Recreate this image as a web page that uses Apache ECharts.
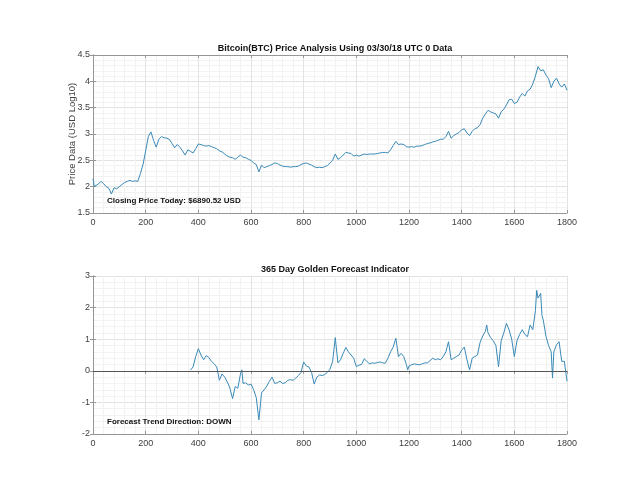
<!DOCTYPE html>
<html>
<head>
<meta charset="utf-8">
<script src="https://cdn.jsdelivr.net/npm/echarts@6/dist/echarts.min.js"></script>
<style>html,body{margin:0;padding:0;background:#fff}#c{width:640px;height:495px}</style>
</head>
<body>
<div id="c"></div>
<script>
// ---- data ----
const titleTop = 'Bitcoin(BTC) Price Analysis Using 03/30/18 UTC 0 Data';
const titleBottom = '365 Day Golden Forecast Indicator';
const yLabelTop = 'Price Data (USD Log10)';
const noteTop = 'Closing Price Today: $6890.52 USD';
const noteBottom = 'Forecast Trend Direction: DOWN';

const priceDays = [0,5,10,20,30,40,50,60,70,80,90,100,110,120,130,140,150,160,170,180,190,200,210,220,230,240,250,260,270,280,290,300,310,320,330,340,350,360,370,380,390,400,410,420,430,440,450,460,470,480,490,500,510,520,530,540,550,560,570,580,590,600,610,620,630,640,650,660,670,680,690,700,710,720,730,740,750,760,770,780,790,800,810,820,830,840,850,860,870,880,890,900,910,920,930,940,950,960,970,980,990,1000,1010,1020,1030,1040,1050,1060,1070,1080,1090,1100,1110,1120,1130,1140,1150,1160,1170,1180,1190,1200,1210,1220,1230,1240,1250,1260,1270,1280,1290,1300,1310,1320,1330,1340,1350,1360,1370,1380,1390,1400,1410,1420,1430,1440,1450,1460,1470,1480,1490,1500,1510,1520,1530,1540,1550,1560,1570,1580,1590,1600,1610,1620,1630,1640,1650,1660,1670,1680,1690,1700,1710,1720,1730,1740,1750,1760,1770,1780,1790,1800];
const priceLog = [2.15,2.0,2.02,2.05,2.1,2.06,2.0,1.97,1.86,1.98,1.96,2.0,2.04,2.08,2.1,2.12,2.1,2.11,2.1,2.25,2.42,2.68,2.95,3.04,2.88,2.75,2.9,2.95,2.93,2.92,2.9,2.82,2.74,2.8,2.75,2.68,2.6,2.7,2.67,2.64,2.72,2.81,2.8,2.78,2.77,2.78,2.76,2.74,2.72,2.68,2.66,2.62,2.58,2.56,2.55,2.52,2.56,2.6,2.56,2.55,2.52,2.5,2.45,2.42,2.28,2.41,2.36,2.38,2.4,2.42,2.45,2.44,2.41,2.39,2.38,2.38,2.37,2.38,2.38,2.39,2.42,2.44,2.45,2.43,2.41,2.38,2.36,2.37,2.36,2.38,2.4,2.45,2.5,2.62,2.52,2.55,2.6,2.65,2.64,2.63,2.58,2.6,2.58,2.6,2.62,2.61,2.62,2.62,2.62,2.63,2.64,2.65,2.65,2.64,2.7,2.78,2.86,2.8,2.81,2.8,2.76,2.75,2.76,2.75,2.77,2.77,2.78,2.8,2.82,2.83,2.85,2.86,2.88,2.9,2.9,2.95,3.05,2.92,2.97,3.0,3.03,3.08,3.1,3.02,2.97,3.05,3.1,3.12,3.18,3.3,3.38,3.45,3.42,3.4,3.38,3.3,3.42,3.47,3.55,3.65,3.66,3.58,3.6,3.7,3.77,3.72,3.82,3.85,3.95,4.1,4.28,4.2,4.22,4.12,4.05,3.88,4.0,4.06,3.95,3.89,3.95,3.83];

const fcDays = [370,380,390,400,410,420,430,440,450,460,470,480,490,500,510,520,530,540,550,560,565,570,580,590,600,610,620,630,640,650,660,670,680,690,700,710,720,730,740,750,760,770,780,790,800,810,820,830,840,850,860,870,880,890,900,910,920,930,940,950,960,970,980,990,1000,1010,1020,1030,1040,1050,1060,1070,1080,1090,1100,1110,1120,1130,1140,1150,1160,1170,1180,1190,1195,1200,1210,1220,1230,1240,1250,1260,1270,1280,1290,1300,1310,1320,1330,1340,1350,1360,1370,1380,1390,1400,1410,1420,1430,1440,1450,1460,1470,1480,1490,1495,1500,1510,1520,1530,1540,1550,1560,1570,1580,1590,1600,1610,1620,1630,1640,1650,1660,1670,1680,1685,1690,1700,1705,1710,1720,1730,1740,1745,1750,1760,1770,1780,1790,1795,1800];
const fcValues = [0.02,0.12,0.45,0.7,0.5,0.35,0.48,0.42,0.3,0.22,0.12,-0.3,-0.1,-0.2,-0.35,-0.55,-0.88,-0.5,-0.55,-0.1,0.03,-0.4,-0.38,-0.45,-0.42,-0.6,-0.85,-1.55,-0.7,-0.6,-0.48,-0.33,-0.2,-0.4,-0.38,-0.33,-0.4,-0.38,-0.3,-0.28,-0.3,-0.23,-0.15,-0.05,0.28,0.15,0.12,-0.05,-0.42,-0.2,-0.13,-0.15,-0.12,-0.05,0.05,0.3,1.05,0.25,0.35,0.55,0.74,0.6,0.5,0.4,0.13,0.18,0.2,0.38,0.3,0.22,0.25,0.24,0.26,0.28,0.25,0.24,0.4,0.6,0.75,1.03,0.45,0.55,0.45,0.2,0.03,0.15,0.19,0.22,0.2,0.19,0.22,0.25,0.25,0.32,0.4,0.35,0.38,0.35,0.45,0.6,0.92,0.35,0.4,0.45,0.5,0.65,0.75,0.35,0.03,0.4,0.45,0.5,0.9,1.1,1.25,1.45,1.2,1.05,0.95,0.8,0.13,0.95,1.2,1.5,1.3,1.0,0.45,0.95,1.15,1.3,1.15,1.08,1.45,1.3,1.9,2.55,2.3,2.45,1.75,1.6,1.1,0.8,0.6,-0.23,0.6,0.82,0.92,0.3,0.3,-0.02,-0.33];

// ---- chart ----
const FONT = 'Liberation Sans, Arial, Helvetica, sans-serif';
const LINE = '#3a8ab7';
const BOX = '#969696';
const TXT = '#404040';
const TICKFS = 9;
const plain = v => String(v);

function xAx(gi) {
  return {
    type: 'value', gridIndex: gi, min: 0, max: 1800, interval: 200,
    axisLine: {show: true, onZero: false, lineStyle: {color: BOX}},
    axisTick: {show: true, inside: true, length: 3, lineStyle: {color: BOX}},
    minorTick: {show: false, splitNumber: 5},
    axisLabel: {color: TXT, fontFamily: FONT, fontSize: TICKFS, margin: 5, formatter: plain},
    splitLine: {show: true, lineStyle: {color: '#e3e3e3', width: 1}},
    minorSplitLine: {show: true, lineStyle: {color: '#f2f2f2', width: 1}}
  };
}
function xAxTop(gi) {
  return {
    type: 'value', gridIndex: gi, position: 'top', min: 0, max: 1800, interval: 200,
    axisLine: {show: true, lineStyle: {color: BOX}},
    axisTick: {show: true, inside: true, length: 3, lineStyle: {color: BOX}},
    axisLabel: {show: false}, splitLine: {show: false}
  };
}
function yAx(gi, min, max, interval) {
  return {
    type: 'value', gridIndex: gi, min: min, max: max, interval: interval,
    axisLine: {show: true, onZero: false, lineStyle: {color: BOX}},
    axisTick: {show: true, inside: true, length: 3, lineStyle: {color: BOX}},
    minorTick: {show: false, splitNumber: 5},
    axisLabel: {color: TXT, fontFamily: FONT, fontSize: TICKFS, margin: 3, formatter: plain},
    splitLine: {show: true, lineStyle: {color: '#e3e3e3', width: 1}},
    minorSplitLine: {show: true, lineStyle: {color: '#f2f2f2', width: 1}}
  };
}
function yAxRight(gi, min, max, interval) {
  return {
    type: 'value', gridIndex: gi, position: 'right', min: min, max: max, interval: interval,
    axisLine: {show: true, lineStyle: {color: BOX}},
    axisTick: {show: true, inside: true, length: 3, lineStyle: {color: BOX}},
    axisLabel: {show: false}, splitLine: {show: false}
  };
}

const chart = echarts.init(document.getElementById('c'), null, {renderer: 'canvas'});
chart.setOption({
  backgroundColor: '#ffffff',
  animation: false,
  title: [
    {text: titleTop, left: 330, top: 39, textAlign: 'center', padding: 5,
     textStyle: {fontFamily: FONT, fontSize: 9, fontWeight: 'bold', color: '#111'}},
    {text: titleBottom, left: 330, top: 260, textAlign: 'center', padding: 5,
     textStyle: {fontFamily: FONT, fontSize: 9, fontWeight: 'bold', color: '#111'}}
  ],
  grid: [
    {left: 93, right: 73, top: 55, height: 158, containLabel: false},
    {left: 93, right: 73, top: 276, height: 158, containLabel: false}
  ],
  xAxis: [xAx(0), xAx(1), xAxTop(0), xAxTop(1)],
  yAxis: [yAx(0, 1.5, 4.5, 0.5), yAx(1, -2, 3, 1), yAxRight(0, 1.5, 4.5, 0.5), yAxRight(1, -2, 3, 1)],
  graphic: [
    {type: 'text', x: 72, y: 134, rotation: Math.PI / 2, z: 100,
     style: {text: yLabelTop, fill: TXT, fontFamily: FONT, fontSize: 9.5, align: 'center', verticalAlign: 'middle'}},
    {type: 'text', x: 107, y: 201, z: 100,
     style: {text: noteTop, fill: '#111', fontFamily: FONT, fontSize: 8, fontWeight: 'bold', verticalAlign: 'middle'}},
    {type: 'text', x: 107, y: 422, z: 100,
     style: {text: noteBottom, fill: '#111', fontFamily: FONT, fontSize: 8, fontWeight: 'bold', verticalAlign: 'middle'}}
  ],
  series: [
    {type: 'line', xAxisIndex: 0, yAxisIndex: 0, showSymbol: false, symbol: 'none',
     lineStyle: {color: LINE, width: 1}, data: priceDays.map((d, i) => [d, priceLog[i]])},
    {type: 'line', xAxisIndex: 1, yAxisIndex: 1, showSymbol: false, symbol: 'none',
     lineStyle: {color: LINE, width: 1}, data: fcDays.map((d, i) => [d, fcValues[i]]),
     markLine: {silent: true, symbol: 'none', label: {show: false},
       lineStyle: {color: '#555', width: 1, type: 'solid'}, data: [{yAxis: 0}]}}
  ]
});
</script>
</body>
</html>
